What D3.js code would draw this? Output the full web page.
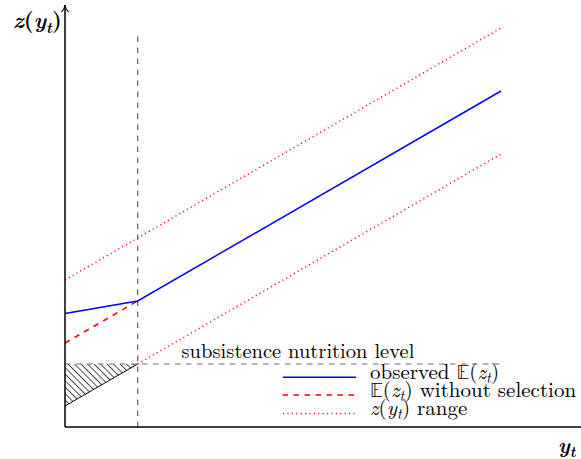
<!DOCTYPE html>
<html><head><meta charset="utf-8">
<script src="https://cdn.jsdelivr.net/npm/d3@7"></script>
<style>body{margin:0;background:#fff}svg{display:block}</style>
</head><body>
<svg id="c" width="581" height="459"></svg>
<script>
// ---- data ----
const kinkX = 1;
const observedX = [0, 1, 6];
const observedZ = [2.7, 3.0, 8.0];
const noSelX = [0, 1];
const noSelZ = [2.0, 3.0];
const upperX = [0, 6];
const upperZ = [3.5, 9.5];
const lowerX = [1, 6];
const lowerZ = [1.5, 6.5];
const hatchX = [0, 1, 0];
const hatchZ = [1.5, 1.5, 0.5];
const subsistenceZ = 1.5;
const subsistenceEndX = 6;
const vlineTopZ = 9.3;
const subsistenceLabel = "subsistence nutrition level";
const legendItems = [
  {key: "obs", parts: [{t: "observed "}, {t: "𝔼", bb: true}, {t: "("}, {t: "z", i: true}, {t: "t", i: true, sub: true}, {t: ")"}]},
  {key: "nosel", parts: [{t: "𝔼", bb: true}, {t: "("}, {t: "z", i: true}, {t: "t", i: true, sub: true}, {t: ") without selection"}]},
  {key: "range", parts: [{t: "z", i: true}, {t: "("}, {t: "y", i: true}, {t: "t", i: true, sub: true}, {t: ") range"}]}
];

const FONT = '"Latin Modern Roman", "Liberation Serif", serif';
const BBFONT = '"Latin Modern Math", "DejaVu Sans", sans-serif';

const svg = d3.select("#c");
const x = d3.scaleLinear().domain([0, 6]).range([65, 501]);
const y = d3.scaleLinear().domain([0, 10]).range([427, 7]);
const line = d3.line().x(d => x(d[0])).y(d => y(d[1]));
const zip = (a, b) => a.map((v, i) => [v, b[i]]);
const GRAY = "#6e6e6e";

const defs = svg.append("defs");
const pat = defs.append("pattern").attr("id", "hatch")
  .attr("patternUnits", "userSpaceOnUse").attr("width", 8).attr("height", 4.6)
  .attr("patternTransform", "rotate(45)");
pat.append("line").attr("x1", 0).attr("x2", 8).attr("y1", 2.3).attr("y2", 2.3)
  .attr("stroke", "#000").attr("stroke-width", 0.7);

svg.append("path").attr("d", line(zip(hatchX, hatchZ)) + "Z").attr("fill", "url(#hatch)");
svg.append("path").attr("d", line(zip(hatchX.slice(1), hatchZ.slice(1))))
  .attr("fill", "none").attr("stroke", "#000").attr("stroke-width", 1);
svg.append("line").attr("x1", x(kinkX)).attr("x2", x(kinkX)).attr("y1", y(0)).attr("y2", y(vlineTopZ))
  .attr("stroke", GRAY).attr("stroke-width", 1.3).attr("stroke-dasharray", "5.5 5.5");
svg.append("line").attr("x1", x(0)).attr("x2", x(subsistenceEndX)).attr("y1", y(subsistenceZ)).attr("y2", y(subsistenceZ))
  .attr("stroke", GRAY).attr("stroke-width", 1.2).attr("stroke-dasharray", "5.5 5.5");
[[upperX, upperZ], [lowerX, lowerZ]].forEach(([a, b]) => {
  svg.append("path").attr("d", line(zip(a, b))).attr("fill", "none")
    .attr("stroke", "#ff0000").attr("stroke-width", 1.5).attr("stroke-dasharray", "1.1 3.3");
});
svg.append("path").attr("d", line(zip(noSelX, noSelZ))).attr("fill", "none")
  .attr("stroke", "#ff0000").attr("stroke-width", 1.5).attr("stroke-dasharray", "5.5 5.5");
svg.append("path").attr("d", line(zip(observedX, observedZ))).attr("fill", "none")
  .attr("stroke", "#0000ff").attr("stroke-width", 1.5);

svg.append("line").attr("x1", x(0)).attr("x2", 581).attr("y1", y(0)).attr("y2", y(0))
  .attr("stroke", "#000").attr("stroke-width", 1.5);
svg.append("line").attr("x1", x(0)).attr("x2", x(0)).attr("y1", y(0)).attr("y2", 5)
  .attr("stroke", "#000").attr("stroke-width", 1.5);
svg.append("path").attr("d", `M${x(0) - 3.5},12 Q${x(0) - 0.5},9 ${x(0)},5 Q${x(0) + 0.5},9 ${x(0) + 3.5},12`)
  .attr("fill", "none").attr("stroke", "#000").attr("stroke-width", 1.1);

function mathText(sel, parts, size, bold) {
  sel.style("font-family", FONT).attr("font-size", size);
  let lowered = false;
  parts.forEach(p => {
    const ts = sel.append("tspan").text(p.t);
    if (p.i) ts.style("font-style", "italic");
    if (p.bb) ts.style("font-family", BBFONT);
    if (p.sub) { ts.attr("font-size", "0.7em").attr("dy", "0.3em"); lowered = true; }
    else if (lowered) { ts.attr("dy", "-0.21em"); lowered = false; }
  });
  if (bold) sel.style("font-weight", "bold");
}
function fitSize(t, target, base, lo, hi) {
  const wd = t.node().getComputedTextLength();
  if (wd > 0) t.attr("font-size", Math.max(lo, Math.min(hi, base * target / wd)).toFixed(2));
}

const yl = svg.append("text").attr("x", 13).attr("y", 28);
mathText(yl, [{t: "z", i: true}, {t: "("}, {t: "y", i: true}, {t: "t", i: true, sub: true}, {t: ")"}], 19, true);
fitSize(yl, 49, 19, 17, 22);
const xl = svg.append("text").attr("x", 558).attr("y", 453);
mathText(xl, [{t: "y", i: true}, {t: "t", i: true, sub: true}], 19, true);
fitSize(xl, 19, 19, 17, 21);

const sl = svg.append("text").attr("x", 181.5).attr("y", 357.5).attr("font-size", 18)
  .style("font-family", FONT).text(subsistenceLabel);
fitSize(sl, 233, 18, 15, 21);

const legBase = [378.7, 396.5, 415];
const legEnd = [500, 577, 470];
legendItems.forEach((it, i) => {
  const ly = legBase[i] - 1.5;
  const l = svg.append("line").attr("x1", 283).attr("x2", 356).attr("y1", ly).attr("y2", ly).attr("stroke-width", 1.5);
  if (it.key === "obs") l.attr("stroke", "#0000ff");
  if (it.key === "nosel") l.attr("stroke", "#ff0000").attr("stroke-dasharray", "5.5 5.5").attr("x1", 282.5);
  if (it.key === "range") l.attr("stroke", "#ff0000").attr("stroke-dasharray", "1.1 3.3");
  const t = svg.append("text").attr("x", 370).attr("y", legBase[i]);
  mathText(t, it.parts, 18, false);
  fitSize(t, legEnd[i] - 370, 18, 15, 21);
});
</script>
</body></html>
